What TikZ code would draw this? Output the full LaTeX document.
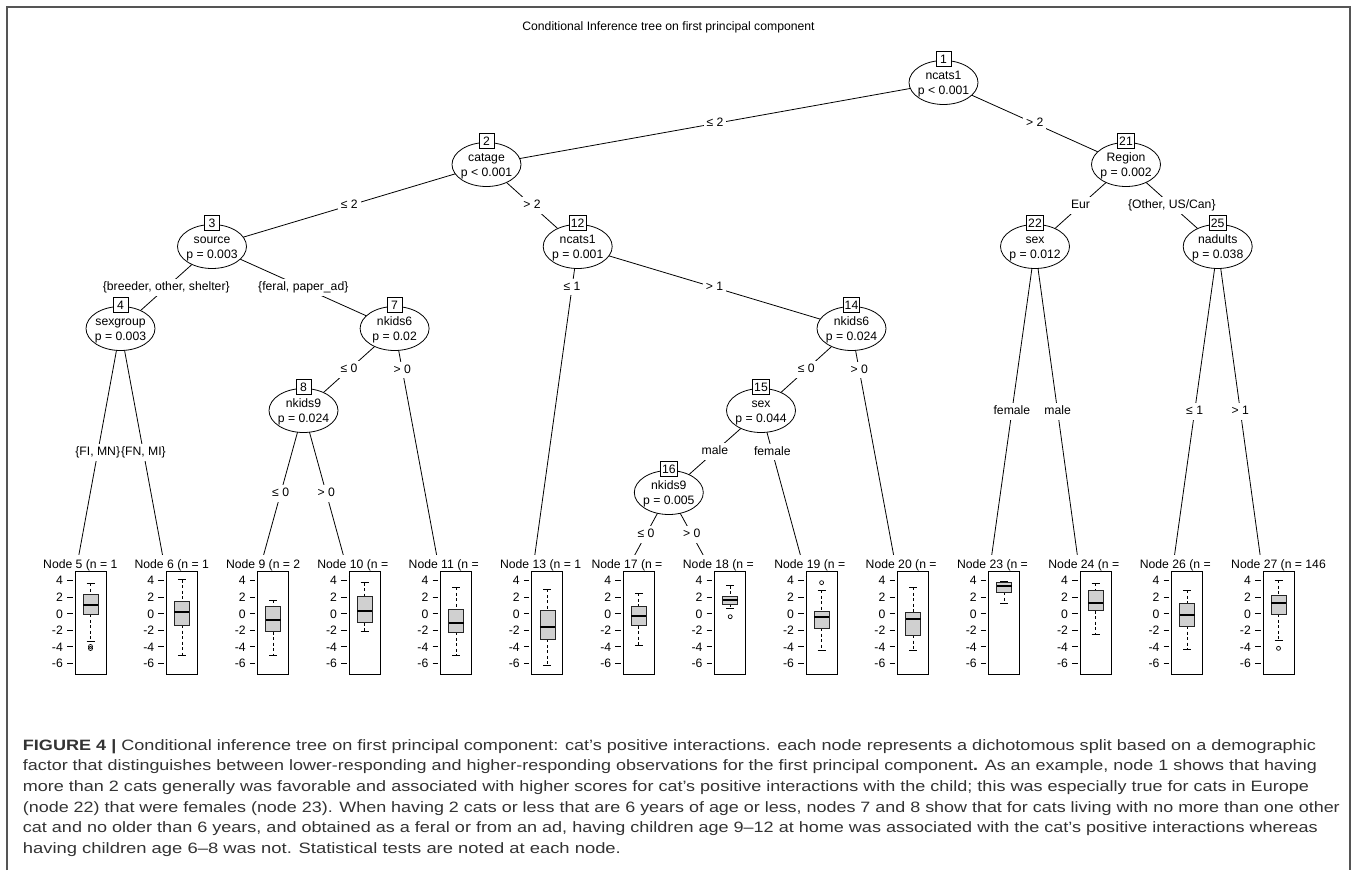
\documentclass[tikz,border=0pt]{standalone}
\usepackage{fontspec}
\setmainfont{Liberation Sans}
\usepackage{graphicx}
\usetikzlibrary{shapes.geometric,backgrounds,calc}
\definecolor{capgray}{HTML}{333333}
\definecolor{boxfill}{HTML}{D0D0D0}
\definecolor{framegray}{HTML}{555555}
\newcommand{\yv}[1]{613.8-8.26*(#1)}
\tikzset{
  plotfont/.style={font=\fontsize{12.2}{14}\selectfont},
  ell/.style={ellipse, draw, fill=white, minimum width=69pt, minimum height=44pt, inner sep=0pt, line width=0.8pt},
  ntxt/.style={plotfont, anchor=base, inner sep=0pt},
  numbox/.style={plotfont, draw, fill=white, minimum size=15pt, inner sep=1.5pt, text height=8.6pt, text depth=0pt, line width=0.8pt},
  elab/.style={plotfont, fill=white, inner xsep=3pt, inner ysep=2.5pt, text height=9pt, text depth=2.5pt},
  leaflab/.style={plotfont, fill=white, anchor=west, inner xsep=0pt, inner ysep=0pt, text height=9pt, text depth=3pt, minimum height=21pt},
  ticklab/.style={plotfont, anchor=east, inner sep=0pt},
  tickst/.style={line width=0.8pt},
  panel/.style={draw, fill=white, line width=0.9pt},
  whisk/.style={line width=0.8pt, dash pattern=on 3pt off 2.5pt},
  capline/.style={line width=0.9pt},
  boxst/.style={draw=black!85, fill=boxfill, line width=0.8pt},
  medst/.style={line width=2.2pt},
  outl/.style={line width=0.7pt},
  conn/.style={line width=0.8pt},
  captext/.style={font=\fontsize{15}{18}\selectfont, text=capgray, anchor=base west, inner sep=0pt},
}
\newcommand{\innernode}[5]{%
  \node[ell] (n#1) at (#2,#3) {};
  \node[ntxt] at ($(n#1.center)+(0,-2.7)$) {#4};
  \node[ntxt] at ($(n#1.center)+(0,12.3)$) {#5};
  \node[numbox] (b#1) at ($(n#1.center)+(0,-23.5)$) {#1};
}
\newcommand{\drawleaf}[8]{%
  \node[leaflab] (lab#1) at ({#2-32},565.5) {#3};
  \coordinate (e#1) at (#2,576);
  \draw[panel] (#2,571) rectangle ({#2+31},674);
  \foreach \v in {4,2,0,-2,-4,-6}{%
    \draw[tickst] ({#2-8},{\yv{\v}}) -- ({#2-2.5},{\yv{\v}});
    \node[ticklab] at ({#2-12},{\yv{\v}}) {\v};
  }
  \draw[whisk] ({#2+15.5},{\yv{#4}}) -- ({#2+15.5},{\yv{#5}})
               ({#2+15.5},{\yv{#7}}) -- ({#2+15.5},{\yv{#8}});
  \draw[capline] ({#2+11.5},{\yv{#4}}) -- ({#2+19.5},{\yv{#4}})
               ({#2+11.5},{\yv{#8}}) -- ({#2+19.5},{\yv{#8}});
  \filldraw[boxst] ({#2+8},{\yv{#5}}) rectangle ({#2+23},{\yv{#7}});
  \draw[medst] ({#2+8},{\yv{#6}}) -- ({#2+23},{\yv{#6}});
}
\newcommand{\outlier}[2]{\draw[outl] ({#1+15.5},{\yv{#2}}) circle[radius=2pt];}

\begin{document}
\begin{tikzpicture}[x=1pt, y=-1pt]
\useasboundingbox (0,0) rectangle (1357,870);
\begin{pgfonlayer}{background}
  \fill[white] (0,0) rectangle (1357,870);
\end{pgfonlayer}

% frame
\draw[framegray, line width=1.3pt] (7,870) -- (7,7) -- (1350,7) -- (1350,870);

% title
\node[plotfont] (title) at (668.5,27) {Conditional Inference tree on first principal component};

% inner nodes
\innernode{1}{943.5}{82.5}{ncats1}{p < 0.001}
\innernode{2}{486.5}{164.5}{catage}{p < 0.001}
\innernode{21}{1126}{164.5}{Region}{p = 0.002}
\innernode{3}{212}{246.5}{source}{p = 0.003}
\innernode{12}{577.7}{246.5}{ncats1}{p = 0.001}
\innernode{22}{1035}{246.5}{sex}{p = 0.012}
\innernode{25}{1217.7}{246.5}{nadults}{p = 0.038}
\innernode{4}{120.5}{328.5}{sexgroup}{p = 0.003}
\innernode{7}{394.6}{328.5}{nkids6}{p = 0.02}
\innernode{14}{851.5}{328.5}{nkids6}{p = 0.024}
\innernode{8}{303.5}{410.5}{nkids9}{p = 0.024}
\innernode{15}{761}{410.5}{sex}{p = 0.044}
\innernode{16}{668.8}{492.5}{nkids9}{p = 0.005}

% leaves: id, panel left, label, top, q3, median, q1, bottom
\drawleaf{5}{75}{Node 5 (n = 1}{3.7}{2.36}{1.07}{-0.06}{-3.3}
\outlier{75}{-3.95}\outlier{75}{-4.2}
\drawleaf{6}{166.4}{Node 6 (n = 1}{4.1}{1.47}{0.26}{-1.36}{-5.0}
\drawleaf{9}{257.8}{Node 9 (n = 2}{1.67}{0.86}{-0.75}{-2.17}{-5.1}
\drawleaf{10}{349.1}{Node 10 (n =}{3.77}{2.07}{0.34}{-1.07}{-2.17}
\drawleaf{11}{440.5}{Node 11 (n =}{3.2}{0.54}{-1.15}{-2.24}{-4.99}
\drawleaf{13}{531.9}{Node 13 (n = 1}{2.96}{0.46}{-1.56}{-3.09}{-6.2}
\drawleaf{17}{623.3}{Node 17 (n =}{2.48}{0.94}{-0.23}{-1.44}{-3.78}
\drawleaf{18}{714.7}{Node 18 (n =}{3.4}{2.07}{1.67}{1.19}{0.66}
\outlier{714.7}{-0.35}
\drawleaf{19}{806.1}{Node 19 (n =}{2.88}{0.34}{-0.35}{-1.76}{-4.38}
\outlier{806.1}{3.77}
\drawleaf{20}{897.5}{Node 20 (n =}{3.2}{0.18}{-0.63}{-2.57}{-4.38}
\drawleaf{23}{988.8}{Node 23 (n =}{3.95}{3.75}{3.35}{2.6}{1.2}
\drawleaf{24}{1080.2}{Node 24 (n =}{3.69}{2.8}{1.35}{0.38}{-2.49}
\drawleaf{26}{1171.6}{Node 26 (n =}{2.88}{1.27}{-0.1}{-1.48}{-4.26}
\drawleaf{27}{1263}{Node 27 (n = 146}{4.09}{2.19}{1.27}{-0.06}{-3.25}
\outlier{1263}{-4.18}

% connectors
\begin{pgfonlayer}{background}
  \draw[conn] (n1.center) -- node[elab, pos=0.5] {≤ 2} (n2.center);
  \draw[conn] (n1.center) -- node[elab, pos=0.5] {> 2} (n21.center);
  \draw[conn] (n2.center) -- node[elab, pos=0.5] {≤ 2} (n3.center);
  \draw[conn] (n2.center) -- node[elab, pos=0.5] {> 2} (n12.center);
  \draw[conn] (n3.center) -- node[elab, pos=0.5] {\{breeder, other, shelter\}} (n4.center);
  \draw[conn] (n3.center) -- node[elab, pos=0.5] {\{feral, paper\_ad\}} (n7.center);
  \draw[conn] (n4.center) -- node[elab, inner xsep=0.5pt, pos=0.5] {\{FI, MN\}} (e5);
  \draw[conn] (n4.center) -- node[elab, inner xsep=0.5pt, pos=0.5] {\{FN, MI\}} (e6);
  \draw[conn] (n7.center) -- node[elab, pos=0.5] {≤ 0} (n8.center);
  \draw[conn] (n7.center) -- node[elab, pos=0.168] {> 0} (e11);
  \draw[conn] (n8.center) -- node[elab, pos=0.5] {≤ 0} (e9);
  \draw[conn] (n8.center) -- node[elab, pos=0.5] {> 0} (e10);
  \draw[conn] (n12.center) -- node[elab, pos=0.123] {≤ 1} (e13);
  \draw[conn] (n12.center) -- node[elab, pos=0.5] {> 1} (n14.center);
  \draw[conn] (n14.center) -- node[elab, pos=0.5] {≤ 0} (n15.center);
  \draw[conn] (n14.center) -- node[elab, pos=0.168] {> 0} (e20);
  \draw[conn] (n15.center) -- node[elab, pos=0.5] {male} (n16.center);
  \draw[conn] (n15.center) -- node[elab, pos=0.251] {female} (e19);
  \draw[conn] (n16.center) -- node[elab, pos=0.5] {≤ 0} (e17);
  \draw[conn] (n16.center) -- node[elab, pos=0.5] {> 0} (e18);
  \draw[conn] (n21.center) -- node[elab, pos=0.5] {Eur} (n22.center);
  \draw[conn] (n21.center) -- node[elab, pos=0.5] {\{Other, US/Can\}} (n25.center);
  \draw[conn] (n22.center) -- node[elab, pos=0.5] {female} (e23);
  \draw[conn] (n22.center) -- node[elab, pos=0.5] {male} (e24);
  \draw[conn] (n25.center) -- node[elab, pos=0.5] {≤ 1} (e26);
  \draw[conn] (n25.center) -- node[elab, pos=0.5] {> 1} (e27);
\end{pgfonlayer}

% caption
\node[captext] (cap1) at (22.7,750) {\resizebox{1293pt}{\height}{\textbf{FIGURE 4 |} Conditional inference tree on first principal component: cat’s positive interactions. each node represents a dichotomous split based on a demographic}};
\node[captext] (cap2) at (22.7,770.8) {\resizebox{1294pt}{\height}{factor that distinguishes between lower-responding and higher-responding observations for the first principal component\textbf{.} As an example, node 1 shows that having}};
\node[captext] (cap3) at (22.7,791.5) {\resizebox{1286pt}{\height}{more than 2 cats generally was favorable and associated with higher scores for cat’s positive interactions with the child; this was especially true for cats in Europe}};
\node[captext] (cap4) at (22.7,812.2) {\resizebox{1317pt}{\height}{(node 22) that were females (node 23). When having 2 cats or less that are 6 years of age or less, nodes 7 and 8 show that for cats living with no more than one other}};
\node[captext] (cap5) at (22.7,832.8) {\resizebox{1295pt}{\height}{cat and no older than 6 years, and obtained as a feral or from an ad, having children age 9–12 at home was associated with the cat’s positive interactions whereas}};
\node[captext] (cap6) at (22.7,853.4) {\resizebox{598pt}{\height}{having children age 6–8 was not. Statistical tests are noted at each node.}};
\end{tikzpicture}
\end{document}
